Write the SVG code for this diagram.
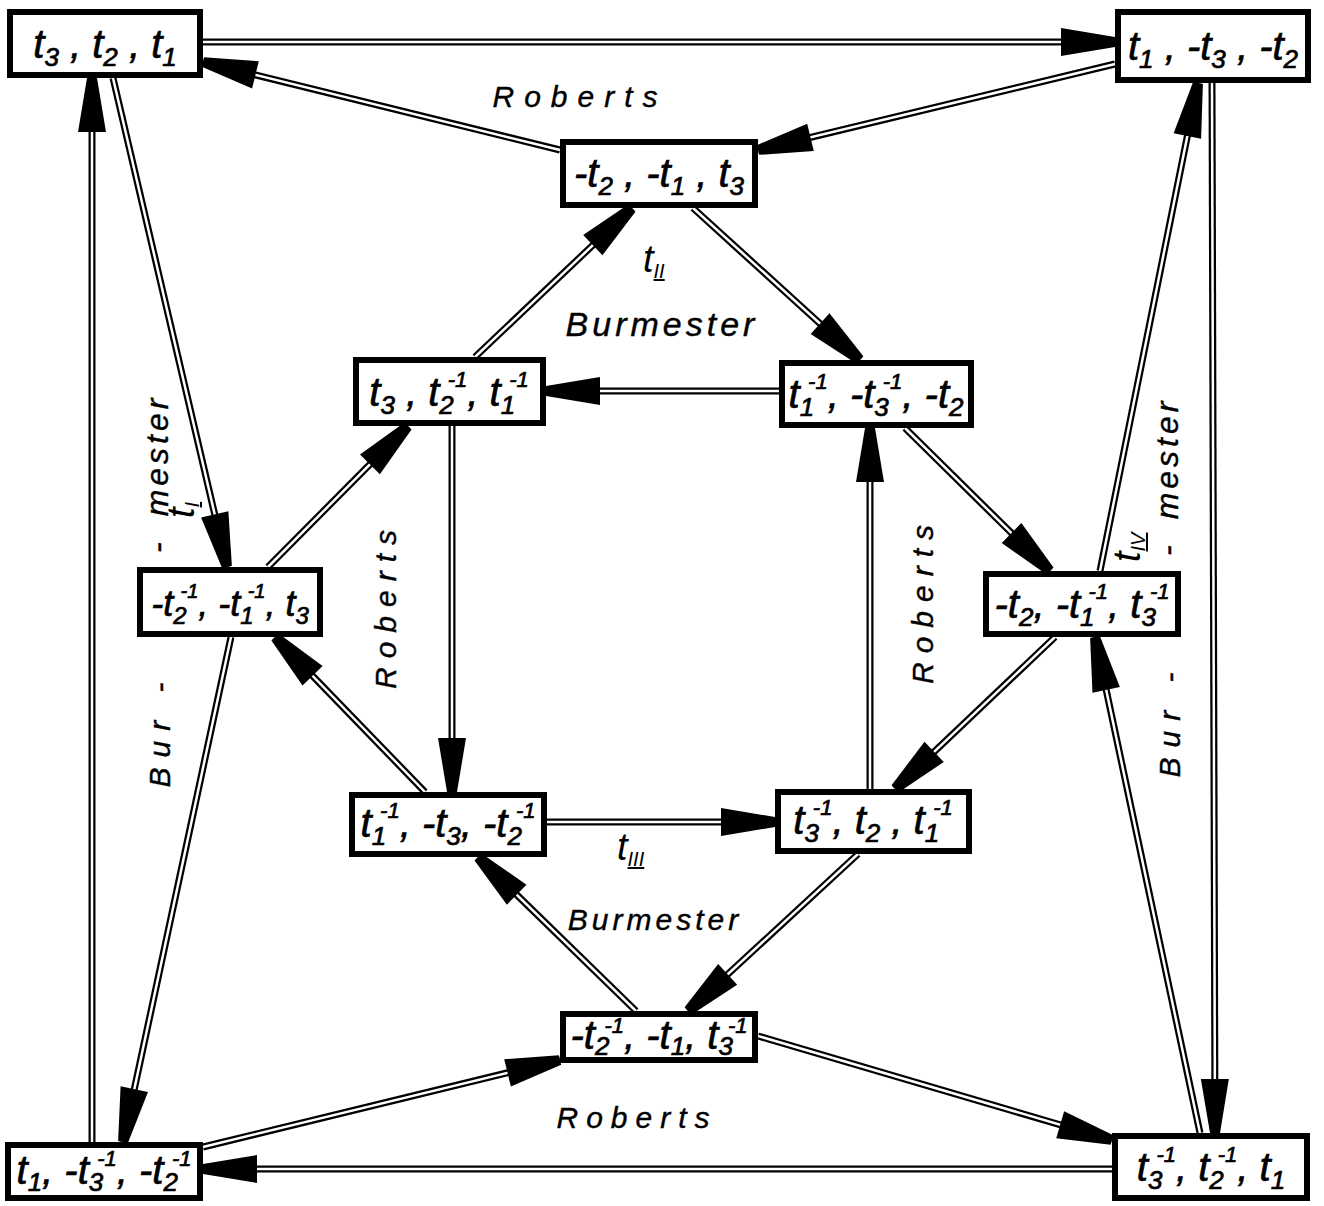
<svg xmlns="http://www.w3.org/2000/svg" width="1324" height="1206" viewBox="0 0 1324 1206">
<style>
.o{stroke:#000;stroke-width:7;fill:none}
.i{stroke:#fff;stroke-width:2.5;fill:none;marker-end:url(#ah)}
.box{fill:#fff;stroke:#000;stroke-width:6}
.nt{font-family:"Liberation Sans",Arial,sans-serif;font-style:italic;font-size:40px;fill:#000;stroke:#000;stroke-width:0.7;text-anchor:middle}
.b{font-size:26px}
.p{font-size:22px}
.lb{font-family:"Liberation Sans",Arial,sans-serif;font-style:italic;font-size:30px;fill:#000;stroke:#000;stroke-width:0.4}
.tl{font-family:"Liberation Sans",Arial,sans-serif;font-style:italic;font-size:38px;fill:#000}
.rn{font-size:20px;text-decoration:underline}
</style>
<defs>
<marker id="ah" markerUnits="userSpaceOnUse" markerWidth="60" markerHeight="32" refX="54" refY="15" orient="auto" overflow="visible">
<path d="M0,1 L54,10 L54,20 L0,29 Z" fill="#000"/>
</marker>
</defs>
<rect width="1324" height="1206" fill="#fff"/>
<g id="connectors">
<g id="e1"><line class="o" x1="203" y1="42" x2="1115" y2="42"/><line class="i" x1="203" y1="42" x2="1115" y2="42"/></g>
<g id="e2"><line class="o" x1="1115" y1="64" x2="758" y2="150"/><line class="i" x1="1115" y1="64" x2="758" y2="150"/></g>
<g id="e3"><line class="o" x1="560" y1="150" x2="203" y2="62"/><line class="i" x1="560" y1="150" x2="203" y2="62"/></g>
<g id="e4"><line class="o" x1="92" y1="1142" x2="92" y2="78"/><line class="i" x1="92" y1="1142" x2="92" y2="78"/></g>
<g id="e5"><line class="o" x1="113" y1="78" x2="227" y2="567"/><line class="i" x1="113" y1="78" x2="227" y2="567"/></g>
<g id="e6"><line class="o" x1="231" y1="637" x2="123" y2="1142"/><line class="i" x1="231" y1="637" x2="123" y2="1142"/></g>
<g id="e7"><line class="o" x1="203" y1="1147" x2="560" y2="1060"/><line class="i" x1="203" y1="1147" x2="560" y2="1060"/></g>
<g id="e8"><line class="o" x1="758" y1="1036" x2="1112" y2="1140"/><line class="i" x1="758" y1="1036" x2="1112" y2="1140"/></g>
<g id="e9"><line class="o" x1="1112" y1="1169" x2="203" y2="1169"/><line class="i" x1="1112" y1="1169" x2="203" y2="1169"/></g>
<g id="e10"><line class="o" x1="1212" y1="83" x2="1215" y2="1133"/><line class="i" x1="1212" y1="83" x2="1215" y2="1133"/></g>
<g id="e11"><line class="o" x1="1200" y1="1133" x2="1095" y2="637"/><line class="i" x1="1200" y1="1133" x2="1095" y2="637"/></g>
<g id="e12"><line class="o" x1="1100" y1="571" x2="1198" y2="83"/><line class="i" x1="1100" y1="571" x2="1198" y2="83"/></g>
<g id="e13"><line class="o" x1="475" y1="357" x2="632" y2="208"/><line class="i" x1="475" y1="357" x2="632" y2="208"/></g>
<g id="e14"><line class="o" x1="693" y1="208" x2="860" y2="360"/><line class="i" x1="693" y1="208" x2="860" y2="360"/></g>
<g id="e15"><line class="o" x1="779" y1="391" x2="546" y2="391"/><line class="i" x1="779" y1="391" x2="546" y2="391"/></g>
<g id="e16"><line class="o" x1="905" y1="428" x2="1050" y2="571"/><line class="i" x1="905" y1="428" x2="1050" y2="571"/></g>
<g id="e17"><line class="o" x1="268" y1="567" x2="408" y2="426"/><line class="i" x1="268" y1="567" x2="408" y2="426"/></g>
<g id="e18"><line class="o" x1="452" y1="426" x2="452" y2="792"/><line class="i" x1="452" y1="426" x2="452" y2="792"/></g>
<g id="e19"><line class="o" x1="425" y1="792" x2="275" y2="637"/><line class="i" x1="425" y1="792" x2="275" y2="637"/></g>
<g id="e20"><line class="o" x1="547" y1="822" x2="775" y2="822"/><line class="i" x1="547" y1="822" x2="775" y2="822"/></g>
<g id="e21"><line class="o" x1="870" y1="789" x2="870" y2="428"/><line class="i" x1="870" y1="789" x2="870" y2="428"/></g>
<g id="e22"><line class="o" x1="1055" y1="637" x2="895" y2="789"/><line class="i" x1="1055" y1="637" x2="895" y2="789"/></g>
<g id="e23"><line class="o" x1="636" y1="1011" x2="478" y2="857"/><line class="i" x1="636" y1="1011" x2="478" y2="857"/></g>
<g id="e24"><line class="o" x1="858" y1="854" x2="688" y2="1011"/><line class="i" x1="858" y1="854" x2="688" y2="1011"/></g>
</g>
<g id="n-tl"><rect class="box" x="10" y="12" width="190" height="63"/>
<text class="nt" x="105" y="58">t<tspan class="b" dy="8">3</tspan><tspan dy="-8"> , t</tspan><tspan class="b" dy="8">2</tspan><tspan dy="-8"> , t</tspan><tspan class="b" dy="8">1</tspan></text></g>
<g id="n-tr"><rect class="box" x="1118" y="12" width="190" height="68"/>
<text class="nt" x="1213" y="60">t<tspan class="b" dy="8">1</tspan><tspan dy="-8"> , -t</tspan><tspan class="b" dy="8">3</tspan><tspan dy="-8"> , -t</tspan><tspan class="b" dy="8">2</tspan></text></g>
<g id="n-topc"><rect class="box" x="563" y="142" width="192" height="63"/>
<text class="nt" x="659" y="187">-t<tspan class="b" dy="8">2</tspan><tspan dy="-8"> , -t</tspan><tspan class="b" dy="8">1</tspan><tspan dy="-8"> , t</tspan><tspan class="b" dy="8">3</tspan></text></g>
<g id="n-itl"><rect class="box" x="356" y="360" width="187" height="63"/>
<text class="nt" x="449" y="406">t<tspan class="b" dy="8">3</tspan><tspan dy="-8"> , t</tspan><tspan class="b" dy="8">2</tspan><tspan class="p" dx="-6" dy="-27">-1</tspan><tspan dy="19">, t</tspan><tspan class="b" dy="8">1</tspan><tspan class="p" dx="-6" dy="-27">-1</tspan></text></g>
<g id="n-itr"><rect class="box" x="782" y="363" width="189" height="62"/>
<text class="nt" x="876" y="408">t<tspan class="b" dy="8">1</tspan><tspan class="p" dx="-6" dy="-27">-1</tspan><tspan dy="19">, -t</tspan><tspan class="b" dy="8">3</tspan><tspan class="p" dx="-6" dy="-27">-1</tspan><tspan dy="19">, -t</tspan><tspan class="b" dy="8">2</tspan></text></g>
<g id="n-lm"><rect class="box" x="140" y="570" width="180" height="64"/>
<text class="nt" x="230" y="616" style="font-size:36px">-t<tspan class="b" style="font-size:24px" dy="8">2</tspan><tspan class="p" style="font-size:20px" dx="-6" dy="-26">-1</tspan><tspan dy="18">, -t</tspan><tspan class="b" style="font-size:24px" dy="8">1</tspan><tspan class="p" style="font-size:20px" dx="-6" dy="-26">-1</tspan><tspan dy="18">, t</tspan><tspan class="b" style="font-size:24px" dy="8">3</tspan></text></g>
<g id="n-rm"><rect class="box" x="986" y="574" width="192" height="60"/>
<text class="nt" x="1082" y="618">-t<tspan class="b" dy="8">2</tspan><tspan dy="-8">, -t</tspan><tspan class="b" dy="8">1</tspan><tspan class="p" dx="-6" dy="-27">-1</tspan><tspan dy="19">, t</tspan><tspan class="b" dy="8">3</tspan><tspan class="p" dx="-6" dy="-27">-1</tspan></text></g>
<g id="n-ibl"><rect class="box" x="352" y="795" width="192" height="59"/>
<text class="nt" x="448" y="837">t<tspan class="b" dy="8">1</tspan><tspan class="p" dx="-6" dy="-27">-1</tspan><tspan dy="19">, -t</tspan><tspan class="b" dy="8">3</tspan><tspan dy="-8">, -t</tspan><tspan class="b" dy="8">2</tspan><tspan class="p" dx="-6" dy="-27">-1</tspan></text></g>
<g id="n-ibr"><rect class="box" x="778" y="792" width="191" height="59"/>
<text class="nt" x="873" y="834">t<tspan class="b" dy="8">3</tspan><tspan class="p" dx="-6" dy="-27">-1</tspan><tspan dy="19">, t</tspan><tspan class="b" dy="8">2</tspan><tspan dy="-8"> , t</tspan><tspan class="b" dy="8">1</tspan><tspan class="p" dx="-6" dy="-27">-1</tspan></text></g>
<g id="n-botc"><rect class="box" x="563" y="1014" width="192" height="46"/>
<text class="nt" x="659" y="1049">-t<tspan class="b" dy="6">2</tspan><tspan class="p" dx="-5" dy="-22">-1</tspan><tspan dy="16">, -t</tspan><tspan class="b" dy="6">1</tspan><tspan dy="-6">, t</tspan><tspan class="b" dy="6">3</tspan><tspan class="p" dx="-5" dy="-22">-1</tspan></text></g>
<g id="n-bl"><rect class="box" x="8" y="1145" width="192" height="53"/>
<text class="nt" x="104" y="1184">t<tspan class="b" dy="7">1</tspan><tspan dy="-7">, -t</tspan><tspan class="b" dy="7">3</tspan><tspan class="p" dx="-6" dy="-25">-1</tspan><tspan dy="18">, -t</tspan><tspan class="b" dy="7">2</tspan><tspan class="p" dx="-6" dy="-25">-1</tspan></text></g>
<g id="n-br"><rect class="box" x="1115" y="1136" width="192" height="62"/>
<text class="nt" x="1211" y="1181">t<tspan class="b" dy="8">3</tspan><tspan class="p" dx="-6" dy="-27">-1</tspan><tspan dy="19">, t</tspan><tspan class="b" dy="8">2</tspan><tspan class="p" dx="-6" dy="-27">-1</tspan><tspan dy="19">, t</tspan><tspan class="b" dy="8">1</tspan></text></g>
<g id="labels">
<text class="lb" x="580" y="107" text-anchor="middle" letter-spacing="10">Roberts</text>
<text class="tl" x="643" y="272">t<tspan class="rn" dy="6">II</tspan></text>
<text class="lb" x="662" y="336" text-anchor="middle" style="font-size:34px" letter-spacing="4">Burmester</text>
<text class="lb" transform="translate(396,605) rotate(-90)" text-anchor="middle" letter-spacing="9">Roberts</text>
<text class="lb" transform="translate(933,600) rotate(-90)" text-anchor="middle" letter-spacing="9">Roberts</text>
<text class="tl" x="617" y="860">t<tspan class="rn" dy="6" text-decoration="underline overline">III</tspan></text>
<text class="lb" x="655" y="930" text-anchor="middle" letter-spacing="4">Burmester</text>
<text class="lb" x="637" y="1128" text-anchor="middle" letter-spacing="8">Roberts</text>
<text class="lb" transform="translate(170,730) rotate(-90)" text-anchor="middle" letter-spacing="10">Bur -</text>
<text class="lb" transform="translate(168,553) rotate(-90)" style="font-size:32px" letter-spacing="4">-<tspan dx="22">mester</tspan></text>
<text class="tl" transform="translate(194,518) rotate(-90)">t<tspan class="rn" dy="5">I</tspan></text>
<text class="lb" transform="translate(1180,720) rotate(-90)" text-anchor="middle" letter-spacing="10">Bur -</text>
<text class="lb" transform="translate(1178,556) rotate(-90)" style="font-size:32px" letter-spacing="4">-<tspan dx="22">mester</tspan></text>
<text class="tl" transform="translate(1140,562) rotate(-90)">t<tspan class="rn" dy="5">IV</tspan></text>
</g>
</svg>
